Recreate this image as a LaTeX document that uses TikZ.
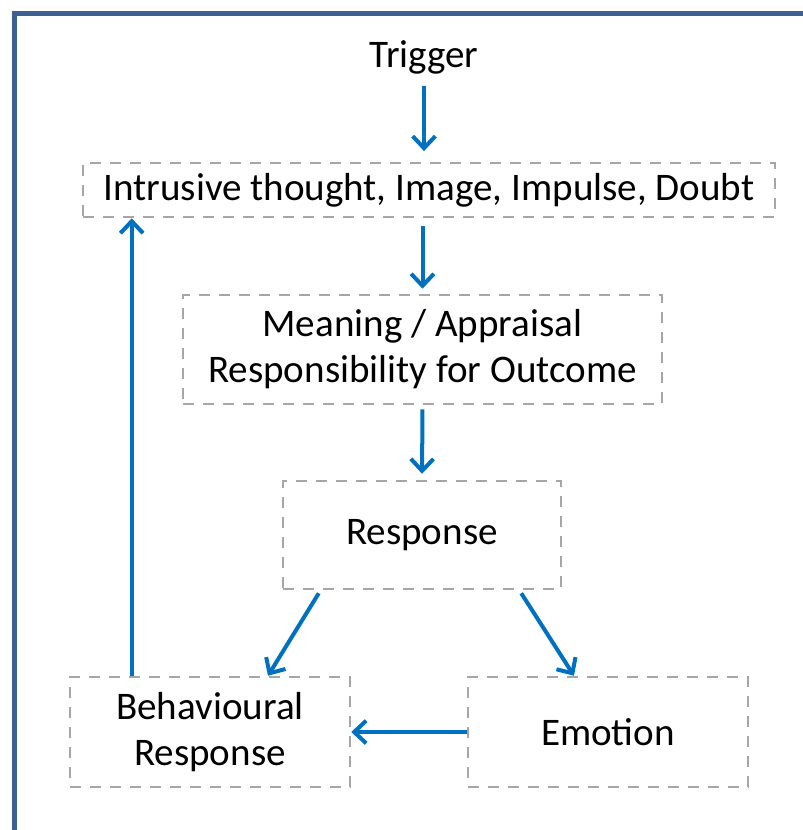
\documentclass[tikz,border=0pt]{standalone}
\usepackage{fontspec}
\setmainfont{Carlito}
\usetikzlibrary{arrows.meta,calc}
\definecolor{frameblue}{RGB}{59,96,145}
\definecolor{arrowblue}{RGB}{0,112,192}
\definecolor{dashgray}{RGB}{166,166,166}
\begin{document}
\begin{tikzpicture}[x=0.75pt,y=-0.75pt,
  lbl/.style={inner sep=0pt, align=center, font=\fontsize{29.3}{34.5}\selectfont},
  box/.style={lbl, draw=dashgray, line width=1.9pt, dash pattern=on 8pt off 7pt},
  flow/.style={draw=arrowblue, line width=3pt,
    -{Straight Barb[length=9pt,width=17pt,line width=3pt]}}]
\useasboundingbox (0,0) rectangle (802,830);
\draw[frameblue, line width=3.75pt] (14,832) -- (14,14) -- (804,14);

\node[lbl] (trig) at (424,57) {Trigger};
\node[box, minimum width=519pt, minimum height=40.5pt] (intr) at (429,190)
  {Intrusive thought, Image, Impulse, Doubt};
\node[box, minimum width=359.25pt, minimum height=81.75pt] (mean) at (422.5,349.5)
  {Meaning / Appraisal\\Responsibility for Outcome};
\node[box, minimum width=208.5pt, minimum height=81pt] (resp) at (422,535) {Response};
\node[box, minimum width=210pt, minimum height=82.5pt] (beh) at (210,732)
  {Behavioural\\Response};
\node[box, minimum width=210pt, minimum height=82.5pt] (emo) at (608,732) {Emotion};

\draw[flow, shorten <=9pt, shorten >=8pt] (trig.south) -- (trig.south |- intr.north);
\draw[flow, shorten <=6pt, shorten >=3.75pt] (mean.north |- intr.south) -- (mean.north);
\draw[flow, shorten <=3pt, shorten >=4.5pt] (mean.south) -- (resp.north);
\draw[flow] ($(resp.south west)+(37,3)$) -- ($(beh.north)+(58,0)$);
\draw[flow] ($(resp.south east)+(-41,3)$) -- ($(emo.north)+(-34,0)$);
\draw[flow] (emo.west) -- (beh.east);
\coordinate (up) at ($(beh.north west)+(63,0)$);
\draw[flow] (up) -- (up |- intr.south);
\end{tikzpicture}
\end{document}
